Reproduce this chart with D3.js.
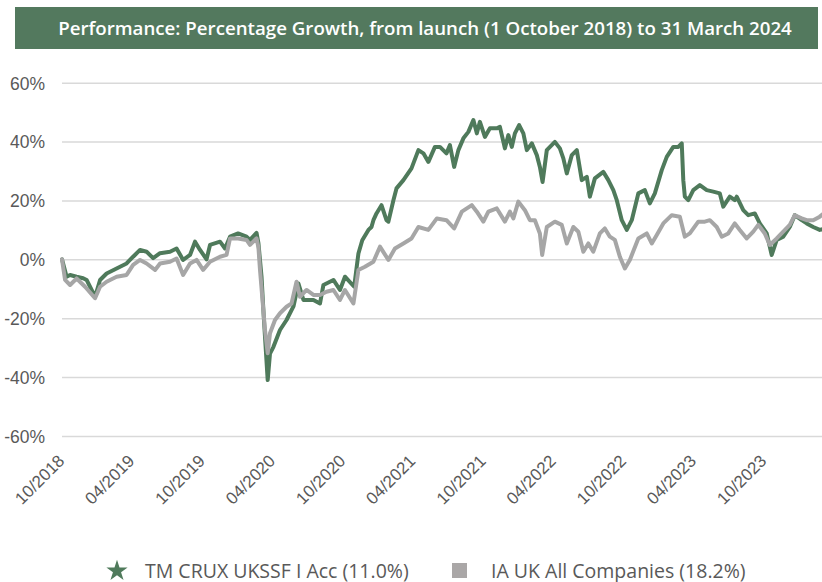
<!DOCTYPE html>
<html>
<head>
<meta charset="utf-8">
<script src="https://cdn.jsdelivr.net/npm/d3@7"></script>
<style>
  html, body { margin: 0; padding: 0; background: #ffffff; }
  svg { display: block; }
</style>
</head>
<body>
<svg id="chart" width="822" height="582"></svg>
<script>
// ---------------- DATA ----------------
const titleText = "Performance: Percentage Growth, from launch (1 October 2018) to 31 March 2024";
const seriesNames = ["TM CRUX UKSSF I Acc (11.0%)", "IA UK All Companies (18.2%)"];
const yTicks = [-60, -40, -20, 0, 20, 40, 60];
const xTickDates = ["2018-10-01","2019-04-01","2019-10-01","2020-04-01","2020-10-01","2021-04-01",
                    "2021-10-01","2022-04-01","2022-10-01","2023-04-01","2023-10-01"];
const xTickLabels = ["10/2018","04/2019","10/2019","04/2020","10/2020","04/2021",
                     "10/2021","04/2022","10/2022","04/2023","10/2023"];

// TM CRUX UKSSF I Acc (% growth)
const fundSeries = [
["2018-10-01",0],["2018-10-13",-5.9],["2018-10-22",-5.3],["2018-11-08",-5.9],["2018-11-25",-6.4],
["2018-12-04",-7.0],["2018-12-26",-12.7],["2019-01-08",-7.0],["2019-01-25",-4.8],["2019-02-20",-3.1],
["2019-03-18",-1.4],["2019-04-04",0.9],["2019-04-22",3.2],["2019-05-09",2.6],["2019-05-26",0.4],
["2019-06-13",2.1],["2019-07-09",2.6],["2019-07-26",3.7],["2019-08-12",-0.2],["2019-08-30",1.5],
["2019-09-12",6.0],["2019-09-25",3.2],["2019-10-12",0.0],["2019-10-21",4.9],["2019-11-16",6.0],
["2019-11-29",3.7],["2019-12-12",7.7],["2020-01-02",8.8],["2020-01-24",7.7],["2020-02-02",6.6],
["2020-02-19",9.0],["2020-02-24",5.4],["2020-03-03",-5.9],["2020-03-09",-20.0],["2020-03-19",-41.0],
["2020-03-25",-32.0],["2020-04-03",-29.7],["2020-04-20",-24.0],["2020-05-07",-20.6],["2020-05-25",-16.0],
["2020-06-07",-8.2],["2020-06-20",-13.8],["2020-07-16",-13.8],["2020-08-02",-15.0],["2020-08-11",-8.7],
["2020-09-06",-7.0],["2020-09-23",-10.4],["2020-10-06",-5.9],["2020-10-30",-9.3],["2020-11-10",2.0],
["2020-11-20",6.5],["2020-12-06",10.0],["2020-12-14",11.0],["2020-12-19",13.3],["2020-12-27",15.6],
["2021-01-09",18.4],["2021-01-22",13.3],["2021-01-27",12.8],["2021-02-09",20.1],["2021-02-17",24.1],
["2021-03-07",26.9],["2021-03-28",30.9],["2021-04-15",37.1],["2021-04-28",36.0],["2021-05-11",33.1],
["2021-05-28",38.2],["2021-06-10",38.2],["2021-06-27",36.0],["2021-07-06",38.8],["2021-07-17",31.4],
["2021-07-28",37.1],["2021-08-10",41.1],["2021-08-23",43.3],["2021-09-05",47.3],["2021-09-14",42.8],
["2021-09-22",46.7],["2021-10-05",41.6],["2021-10-18",44.5],["2021-11-05",44.5],["2021-11-13",45.0],
["2021-11-26",37.7],["2021-12-05",42.2],["2021-12-14",38.2],["2021-12-22",42.8],["2022-01-02",45.6],
["2022-01-13",42.8],["2022-01-22",37.1],["2022-02-04",39.4],["2022-02-17",35.4],["2022-02-25",31.4],
["2022-03-04",26.3],["2022-03-15",37.1],["2022-04-05",39.9],["2022-04-18",37.7],["2022-04-27",34.3],
["2022-05-06",29.2],["2022-05-19",35.4],["2022-06-01",37.1],["2022-06-14",26.9],["2022-06-27",28.0],
["2022-07-05",21.3],["2022-07-18",27.5],["2022-08-09",29.7],["2022-08-22",26.9],["2022-09-04",23.5],
["2022-09-13",20.1],["2022-09-26",13.3],["2022-10-09",10.0],["2022-10-22",13.3],["2022-11-08",22.4],
["2022-11-25",23.5],["2022-12-08",19.0],["2022-12-21",22.4],["2023-01-08",30.3],["2023-01-21",34.8],
["2023-02-07",38.2],["2023-02-20",38.2],["2023-03-01",39.4],["2023-03-05",26.9],["2023-03-09",21.3],
["2023-03-18",20.1],["2023-03-31",23.5],["2023-04-17",25.2],["2023-05-05",23.5],["2023-05-22",23.0],
["2023-06-08",22.4],["2023-06-17",17.9],["2023-07-04",21.3],["2023-07-17",20.1],["2023-07-22",21.3],
["2023-08-08",16.7],["2023-08-21",15.0],["2023-09-07",15.6],["2023-09-20",12.2],["2023-10-08",8.8],
["2023-10-21",1.5],["2023-11-03",6.6],["2023-11-20",7.7],["2023-12-07",11.0],["2023-12-20",15.0],
["2024-01-07",13.3],["2024-01-20",12.2],["2024-02-06",11.0],["2024-02-23",10.0],["2024-03-28",11.0]
];

// IA UK All Companies (% growth)
const sectorSeries = [
["2018-10-01",0],["2018-10-09",-7.0],["2018-10-22",-8.7],["2018-11-08",-6.5],["2018-11-30",-9.3],
["2018-12-26",-13.2],["2019-01-08",-9.3],["2019-01-25",-7.6],["2019-02-20",-5.9],["2019-03-18",-5.3],
["2019-04-04",-1.9],["2019-04-22",-0.2],["2019-05-09",-1.4],["2019-05-31",-3.6],["2019-06-13",-1.4],
["2019-07-09",-0.8],["2019-07-26",0.3],["2019-08-12",-5.3],["2019-08-30",-1.4],["2019-09-16",-0.2],
["2019-10-03",-3.6],["2019-10-21",-0.8],["2019-11-16",0.9],["2019-12-03",1.5],["2019-12-12",7.1],
["2020-01-02",7.1],["2020-01-24",6.6],["2020-02-02",4.9],["2020-02-19",7.1],["2020-02-24",4.0],
["2020-02-28",-3.6],["2020-03-12",-24.0],["2020-03-19",-31.9],["2020-03-25",-25.1],["2020-04-07",-20.6],
["2020-04-20",-18.3],["2020-05-07",-16.1],["2020-05-20",-15.0],["2020-06-02",-7.6],["2020-06-11",-12.7],
["2020-06-28",-10.4],["2020-07-16",-12.1],["2020-08-02",-12.1],["2020-08-19",-11.0],["2020-09-06",-10.4],
["2020-09-23",-13.8],["2020-10-06",-10.4],["2020-10-28",-15.0],["2020-11-10",-3.6],["2020-11-27",-2.5],
["2020-12-19",-0.8],["2021-01-05",4.3],["2021-01-27",-0.2],["2021-02-13",3.7],["2021-03-07",5.4],
["2021-03-28",7.1],["2021-04-15",11.0],["2021-05-11",10.0],["2021-06-02",13.9],["2021-06-27",13.3],
["2021-07-17",10.5],["2021-08-06",16.2],["2021-09-01",18.4],["2021-09-14",16.2],["2021-10-01",12.8],
["2021-10-14",16.2],["2021-11-05",17.3],["2021-11-26",12.8],["2021-12-09",16.2],["2021-12-18",13.9],
["2021-12-31",19.6],["2022-01-17",16.7],["2022-01-30",13.3],["2022-02-12",13.3],["2022-02-25",8.8],
["2022-03-03",1.5],["2022-03-15",11.0],["2022-04-05",12.8],["2022-04-23",11.7],["2022-05-06",5.4],
["2022-05-23",11.0],["2022-06-05",9.4],["2022-06-18",2.6],["2022-07-01",5.4],["2022-07-14",2.6],
["2022-07-31",8.8],["2022-08-13",10.5],["2022-08-26",7.7],["2022-09-08",6.6],["2022-09-21",0.9],
["2022-10-04",-3.1],["2022-10-17",-0.2],["2022-11-08",7.1],["2022-11-30",8.8],["2022-12-13",5.4],
["2022-12-26",8.3],["2023-01-12",12.2],["2023-02-03",15.0],["2023-02-24",14.5],["2023-03-09",7.7],
["2023-03-22",8.8],["2023-04-13",12.8],["2023-04-30",12.8],["2023-05-13",13.3],["2023-05-31",11.0],
["2023-06-13",7.7],["2023-06-30",8.8],["2023-07-17",12.2],["2023-07-30",10.0],["2023-08-17",7.1],
["2023-09-03",9.4],["2023-09-16",11.7],["2023-10-03",8.8],["2023-10-16",4.9],["2023-11-03",7.1],
["2023-11-20",9.4],["2023-12-07",11.7],["2023-12-20",15.0],["2024-01-07",13.9],["2024-01-20",13.3],
["2024-02-06",13.3],["2024-02-23",14.5],["2024-03-28",18.2]
];

const colors = { fund: "#4f7a5b", sector: "#a6a6a6", banner: "#53795e", text: "#595959", grid: "#d9d9d9", square: "#aaa7a7" };

// ---------------- CHART ----------------
const parse = d3.utcParse("%Y-%m-%d");
const svg = d3.select("#chart");

const x = d3.scaleUtc()
  .domain([parse("2018-10-01"), parse("2024-03-31")])
  .range([62, 834]);
const y = d3.scaleLinear().domain([-60, 60]).range([436, 82.7]);

// title banner
svg.append("rect").attr("x", 15).attr("y", 7).attr("width", 803).attr("height", 42).attr("fill", colors.banner);
svg.append("text").attr("x", 425).attr("y", 35).attr("text-anchor", "middle")
  .attr("font-family", "'Open Sans', sans-serif").attr("font-weight", 600).attr("font-size", 18.7)
  .attr("fill", "#ffffff").text(titleText);

// y axis + grid
const yAxis = svg.append("g").attr("transform", "translate(62,0)")
  .call(d3.axisLeft(y).tickValues(yTicks).tickFormat(d => d + "%").tickSize(-(822 - 62)).tickPadding(17));
yAxis.select(".domain").remove();
yAxis.selectAll(".tick line").attr("stroke", colors.grid).attr("stroke-width", 1.5);
yAxis.selectAll(".tick text").attr("font-family", "'Liberation Sans', Arial, sans-serif")
  .attr("font-size", 17.5).attr("fill", colors.text).attr("dy", "0.36em");

// x axis labels
const xAxis = svg.append("g").attr("transform", "translate(0,436)")
  .call(d3.axisBottom(x).tickValues(xTickDates.map(parse)).tickFormat((d, i) => xTickLabels[i]).tickSize(0));
xAxis.select(".domain").remove();
xAxis.selectAll(".tick text").attr("font-family", "'Liberation Sans', Arial, sans-serif")
  .attr("font-size", 17).attr("fill", colors.text)
  .attr("x", 0).attr("y", 0).attr("dy", 0)
  .attr("text-anchor", "end").attr("transform", "translate(3,26) rotate(-45)");

// lines
const line = d3.line().x(d => x(parse(d[0]))).y(d => y(d[1])).curve(d3.curveLinear);
svg.append("path").datum(fundSeries).attr("d", line).attr("fill", "none")
  .attr("stroke", colors.fund).attr("stroke-width", 4).attr("stroke-linejoin", "round").attr("stroke-linecap", "round");
svg.append("path").datum(sectorSeries).attr("d", line).attr("fill", "none")
  .attr("stroke", colors.sector).attr("stroke-width", 4).attr("stroke-linejoin", "round").attr("stroke-linecap", "round");

// legend
const lg = svg.append("g");
lg.append("path").attr("d", d3.symbol(d3.symbolStar, 140)()).attr("transform", "translate(117,571)").attr("fill", colors.fund);
lg.append("text").attr("x", 145).attr("y", 577.5).attr("font-family", "'Open Sans', sans-serif")
  .attr("font-size", 19.5).attr("fill", colors.text).text(seriesNames[0]);
lg.append("rect").attr("x", 452).attr("y", 563).attr("width", 15).attr("height", 15).attr("fill", colors.square);
lg.append("text").attr("x", 491).attr("y", 577.5).attr("font-family", "'Open Sans', sans-serif")
  .attr("font-size", 19.5).attr("fill", colors.text).text(seriesNames[1]);
</script>
</body>
</html>
